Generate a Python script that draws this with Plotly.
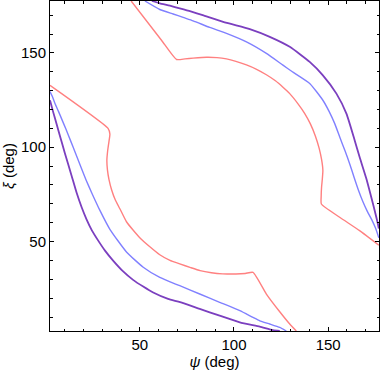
import plotly.graph_objects as go

# contour traces (psi, xi in degrees)
purple_a_psi = [56.4, 60.6, 66.0, 71.2, 77.0, 83.4, 96.2, 108.4, 119.0, 129.6, 140.2, 147.1, 154.4, 159.7, 164.1, 166.7, 170.3, 172.9, 174.7, 176.4, 176.9]
purple_a_xi = [177.5, 176.3, 175.0, 173.6, 172.0, 170.0, 165.9, 162.6, 158.5, 153.2, 145.2, 138.2, 128.4, 117.8, 103.6, 94.8, 83.3, 73.5, 66.5, 59.4, 56.9]
purple_b_psi = [2.3, 4.0, 5.8, 7.7, 10.2, 13.8, 16.4, 19.1, 21.7, 24.6, 27.9, 31.5, 35.8, 41.0, 46.4, 52.0, 57.1, 65.0, 71.4, 81.8, 92.4, 103.1, 113.7, 120.7, 124.3]
purple_b_xi = [124.9, 118.6, 112.3, 105.6, 96.8, 84.8, 76.0, 68.2, 61.8, 55.8, 50.5, 45.2, 39.9, 34.3, 29.7, 26.0, 23.0, 19.6, 17.9, 14.3, 10.7, 7.2, 4.9, 3.1, 2.6]

blue_a_psi = [52.7, 60.6, 67.7, 73.0, 78.3, 87.1, 96.0, 106.6, 117.2, 126.0, 131.0, 140.2, 147.2, 150.5, 153.5, 156.3, 159.0, 161.5, 163.8, 166.0, 168.3, 170.8, 173.2, 175.2, 176.9]
blue_a_xi = [177.5, 173.0, 170.6, 168.8, 167.0, 163.5, 160.3, 155.8, 149.7, 143.5, 140.0, 133.8, 124.9, 119.0, 112.5, 105.0, 98.0, 91.0, 84.0, 77.5, 71.5, 66.0, 61.5, 57.0, 52.0]
blue_b_psi = [2.3, 3.5, 5.0, 6.8, 8.7, 10.8, 13.2, 15.8, 18.5, 21.5, 24.6, 28.8, 34.1, 42.9, 51.8, 60.6, 71.2, 81.8, 92.4, 103.1, 110.1, 113.7, 119.0, 124.3, 127.8]
blue_b_xi = [129.5, 127.0, 123.0, 119.0, 114.5, 109.5, 103.5, 97.0, 90.0, 82.5, 75.5, 66.5, 56.5, 44.5, 36.4, 31.0, 26.6, 22.2, 17.8, 13.4, 9.8, 8.0, 6.3, 4.5, 2.6]

red_a_psi = [2.3, 33.2, 34.1, 33.6, 32.9, 32.5, 32.8, 33.6, 35.0, 37.0, 39.4, 42.9, 46.5, 50.5, 55.0, 60.6, 66.0, 71.2, 77.0, 82.0, 88.0, 94.0, 101.0, 106.0, 110.1, 117.2, 124.3, 129.6, 133.1]
red_a_xi = [132.8, 109.9, 107.0, 103.0, 98.0, 93.0, 88.0, 83.0, 77.5, 72.0, 67.4, 60.5, 56.0, 51.5, 47.5, 43.0, 40.0, 38.2, 36.2, 34.6, 33.5, 32.9, 32.8, 33.1, 33.7, 22.2, 12.8, 6.3, 2.6]
red_b_psi = [45.4, 61.5, 69.5, 74.0, 78.3, 85.4, 91.0, 96.0, 101.0, 106.6, 112.0, 117.2, 122.0, 126.0, 129.6, 134.0, 137.5, 140.5, 143.2, 145.2, 146.5, 147.2, 146.9, 146.5, 146.3, 146.4, 156.1, 166.7, 176.9]
red_b_xi = [177.5, 156.7, 146.5, 146.8, 147.2, 147.7, 147.5, 146.8, 145.5, 143.6, 141.3, 138.4, 135.2, 131.8, 128.4, 123.0, 118.0, 112.5, 106.0, 99.5, 93.5, 87.7, 83.0, 78.8, 74.0, 69.9, 62.9, 55.8, 48.1]

red = "rgb(255,128,128)"
blue = "rgb(128,128,255)"
purple = "rgb(123,63,191)"

fig = go.Figure()
for xs, ys, c, w in [
    (red_a_psi, red_a_xi, red, 1.4),
    (red_b_psi, red_b_xi, red, 1.4),
    (blue_a_psi, blue_a_xi, blue, 1.4),
    (blue_b_psi, blue_b_xi, blue, 1.4),
    (purple_a_psi, purple_a_xi, purple, 1.8),
    (purple_b_psi, purple_b_xi, purple, 1.8),
]:
    fig.add_trace(go.Scatter(x=xs, y=ys, mode="lines", line=dict(color=c, width=w, shape="spline", smoothing=0.5),
                             showlegend=False, hoverinfo="skip"))

axis_style = dict(
    showgrid=False, zeroline=False, showline=True, linecolor="black", linewidth=1, mirror="ticks",
    ticks="inside", ticklen=4, tickcolor="black", tickwidth=1,
    tickvals=[50, 100, 150], tickfont=dict(family="Liberation Sans, Arial", size=15, color="black"),
    minor=dict(ticks="inside", ticklen=2.5, tickcolor="black", dtick=10, tick0=0, showgrid=False),
)

fig.update_xaxes(range=[2.3, 177.0], title=dict(text="<i>ψ</i> (deg)", standoff=4,
                 font=dict(family="Liberation Sans, Arial", size=15, color="black")), **axis_style)
fig.update_yaxes(range=[2.6, 177.5], title=dict(text="<i>ξ</i> (deg)", standoff=4,
                 font=dict(family="Liberation Sans, Arial", size=15, color="black")), **axis_style)

fig.update_layout(width=382, height=372, margin=dict(l=50, r=3, t=1, b=41),
                  plot_bgcolor="white", paper_bgcolor="white")

# page body margin would shift the plot by 8px
fig.write_html("out.html", config={"displayModeBar": False},
               post_script="document.body.style.margin='0px';")
